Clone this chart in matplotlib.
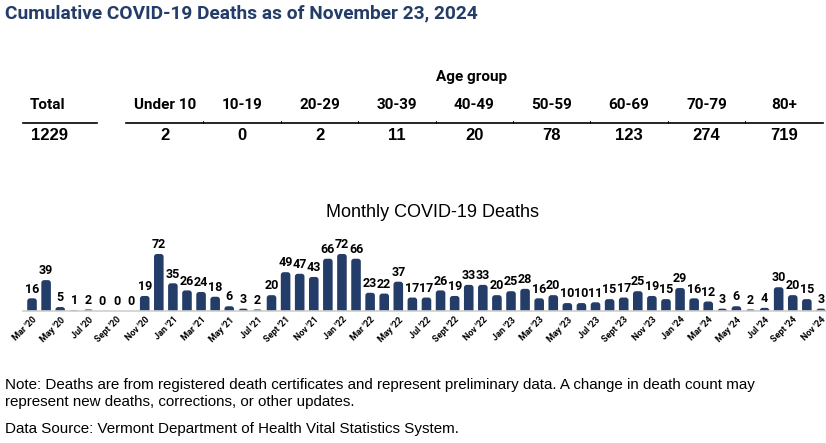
import matplotlib
matplotlib.use("Agg")
import matplotlib.pyplot as plt
from matplotlib.patches import FancyBboxPatch
import numpy as np

# ---- data ----
total_deaths = 1229
age_groups = ["Under 10", "10-19", "20-29", "30-39", "40-49", "50-59", "60-69", "70-79", "80+"]
age_deaths = [2, 0, 2, 11, 20, 78, 123, 274, 719]

month_labels = [
    "Mar '20", "Apr '20", "May '20", "Jun '20", "Jul '20", "Aug '20", "Sept '20", "Oct '20", "Nov '20", "Dec '20",
    "Jan '21", "Feb '21", "Mar '21", "Apr '21", "May '21", "Jun '21", "Jul '21", "Aug '21", "Sept '21", "Oct '21", "Nov '21", "Dec '21",
    "Jan '22", "Feb '22", "Mar '22", "Apr '22", "May '22", "Jun '22", "Jul '22", "Aug '22", "Sept '22", "Oct '22", "Nov '22", "Dec '22",
    "Jan '23", "Feb '23", "Mar '23", "Apr '23", "May '23", "Jun '23", "Jul '23", "Aug '23", "Sept '23", "Oct '23", "Nov '23", "Dec '23",
    "Jan '24", "Feb '24", "Mar '24", "Apr '24", "May '24", "Jun '24", "Jul '24", "Aug '24", "Sept '24", "Oct '24", "Nov '24",
]
monthly_deaths = [
    16, 39, 5, 1, 2, 0, 0, 0, 19, 72,
    35, 26, 24, 18, 6, 3, 2, 20, 49, 47, 43, 66,
    72, 66, 23, 22, 37, 17, 17, 26, 19, 33, 33, 20,
    25, 28, 16, 20, 10, 10, 11, 15, 17, 25, 19, 15,
    29, 16, 12, 3, 6, 2, 4, 30, 20, 15, 3,
]

NAVY = "#243c68"
NARROW = ["DejaVu Sans Condensed", "Roboto", "DejaVu Sans"]
REG = ["Liberation Sans", "DejaVu Sans"]

W, H = 826, 443
fig = plt.figure(figsize=(W / 100, H / 100), dpi=100)


def fx(px):
    return px / W


def fy(py):
    return 1 - py / H


# ---- header ----
fig.text(fx(5), fy(13), "Cumulative COVID-19 Deaths as of November 23, 2024",
         family=NARROW, fontsize=13.8, fontweight="bold", color=NAVY, va="center", ha="left")

# ---- table ----
col_left, col_w = 126, 77.4
centers = [col_left + col_w * (i + 0.5) for i in range(len(age_groups))]
fig.text(fx(472), fy(77), "Age group", family=NARROW, fontsize=11, fontweight="bold",
         ha="center", va="center")
fig.text(fx(30), fy(105), "Total", family=NARROW, fontsize=11, fontweight="bold", ha="left", va="center")
fig.text(fx(31), fy(136), str(total_deaths), family=REG, fontsize=12, fontweight="bold", ha="left", va="center")
for cx, name, val in zip(centers, age_groups, age_deaths):
    fig.text(fx(cx), fy(105), name, family=NARROW, fontsize=11, fontweight="bold", ha="center", va="center")
    fig.text(fx(cx), fy(136), str(val), family=REG, fontsize=12, fontweight="bold", ha="center", va="center")

line_y = fy(123)
fig.add_artist(plt.Line2D([fx(23), fx(97)], [line_y, line_y], color="black", lw=1.2))
fig.add_artist(plt.Line2D([fx(col_left), fx(col_left + col_w * len(age_groups))], [line_y, line_y],
                          color="black", lw=1.2))
for i in range(1, len(age_groups)):
    bx = fx(col_left + col_w * i)
    fig.add_artist(plt.Line2D([bx, bx], [line_y, line_y + 2 / H], color="black", lw=0.6))

# ---- bar chart ----
ax_left, ax_right, ax_bottom, ax_top = 23, 826, 311, 235
ax = fig.add_axes([fx(ax_left), fy(ax_bottom), fx(ax_right - ax_left), (ax_bottom - ax_top) / H])
x = np.arange(len(monthly_deaths))
bar_w = 0.68
bars = ax.bar(x, monthly_deaths, width=bar_w, color=NAVY, visible=False)
ax.bar_label(bars, padding=2, fontsize=9, fontweight="bold", family=NARROW)
ax.set_xlim(-0.64, len(monthly_deaths) - 0.64)
ymax = 76 / 0.792
ax.set_ylim(0, ymax)

# rounded-top bars (bottom corners hidden below the baseline)
px_x = (ax_right - ax_left) / len(monthly_deaths)
px_y = (ax_bottom - ax_top) / ymax
r = 0.2
for b in bars:
    h = b.get_height()
    if h <= 0:
        continue
    ax.add_patch(FancyBboxPatch((b.get_x(), -6), b.get_width(), h + 6,
                                boxstyle=f"round,pad=0,rounding_size={r}",
                                mutation_aspect=px_x / px_y, color=NAVY, lw=0))

for s in ["top", "right", "left"]:
    ax.spines[s].set_visible(False)
ax.spines["bottom"].set_color("#d0d0d0")
ax.spines["bottom"].set_linewidth(1.2)
ax.spines["bottom"].set_zorder(3)
ax.set_yticks([])
ax.set_xticks(x[::2])
ax.set_xticklabels(month_labels[::2], rotation=45, ha="right", rotation_mode="anchor",
                   fontsize=6.5, fontweight="bold", family=NARROW)
ax.tick_params(axis="x", length=0, pad=3)
ax.set_facecolor("none")

fig.text(fx(432), fy(213), "Monthly COVID-19 Deaths", family=REG, fontsize=13, ha="center", va="center")

# ---- notes ----
fig.text(fx(5), fy(385), "Note: Deaths are from registered death certificates and represent preliminary data. "
         "A change in death count may", family=REG, fontsize=10.9, ha="left", va="center")
fig.text(fx(5), fy(402), "represent new deaths, corrections, or other updates.",
         family=REG, fontsize=10.9, ha="left", va="center")
fig.text(fx(5), fy(429), "Data Source: Vermont Department of Health Vital Statistics System.",
         family=REG, fontsize=10.9, ha="left", va="center")

fig.savefig("out.png", dpi=100)
